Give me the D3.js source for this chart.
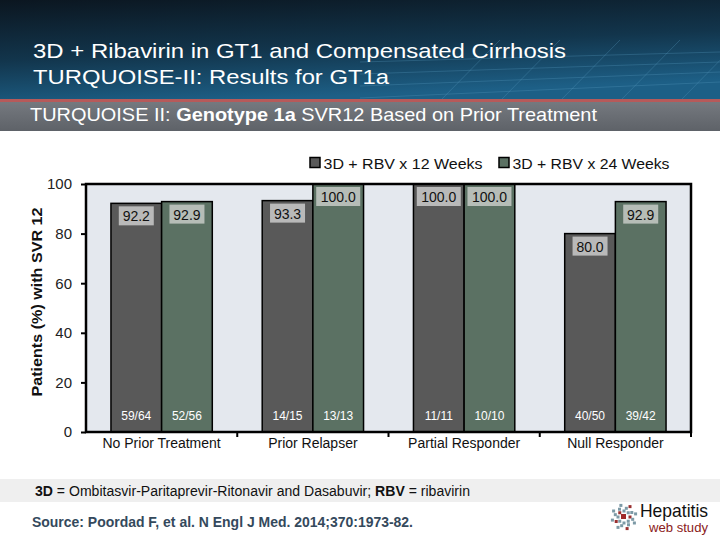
<!DOCTYPE html>
<html><head><meta charset="utf-8">
<script src="https://cdn.jsdelivr.net/npm/d3@7"></script>
<style>body{margin:0;background:#fff}svg{display:block}</style>
</head><body>
<script>
const categories = ["No Prior Treatment","Prior Relapser","Partial Responder","Null Responder"];
const seriesNames = ["3D + RBV x 12 Weeks","3D + RBV x 24 Weeks"];
const values12 = [92.2, 93.3, 100.0, 80.0];
const values24 = [92.9, 100.0, 100.0, 92.9];
const counts12 = ["59/64","14/15","11/11","40/50"];
const counts24 = ["52/56","13/13","10/10","39/42"];
const yTicks = [0,20,40,60,80,100];

const W=720,H=540;
const font="Liberation Sans, Arial, sans-serif";
const svg=d3.select("body").append("svg").attr("width",W).attr("height",H);
const defs=svg.append("defs");
function fit(sel,len){return sel.attr("textLength",len).attr("lengthAdjust","spacingAndGlyphs");}
const hg=defs.append("linearGradient").attr("id","hg").attr("x1",0).attr("y1",0).attr("x2",0.3).attr("y2",1);
hg.append("stop").attr("offset","0%").attr("stop-color","#0b1620");
hg.append("stop").attr("offset","55%").attr("stop-color","#12354c");
hg.append("stop").attr("offset","100%").attr("stop-color","#1d5f86");
svg.append("rect").attr("width",W).attr("height",101).attr("fill","url(#hg)");
// faint decorative grid
const deco=svg.append("g").attr("stroke","#5a9ac0").attr("stroke-opacity",0.3).attr("stroke-width",1);
[58,70,82,94].forEach((y,i)=>deco.append("line").attr("x1",360).attr("x2",720).attr("y1",y+4).attr("y2",y-6-i*2));
[470,530,590,650,710].forEach(x=>deco.append("line").attr("x1",x-30).attr("x2",x+30).attr("y1",101).attr("y2",40));
fit(svg.append("text").attr("x",33).attr("y",58).attr("fill","#fff").attr("font-family",font).attr("font-size",21).text("3D + Ribavirin in GT1 and Compensated Cirrhosis"),533);
fit(svg.append("text").attr("x",33).attr("y",84).attr("fill","#fff").attr("font-family",font).attr("font-size",21).text("TURQUOISE-II: Results for GT1a"),356);
svg.append("rect").attr("y",99).attr("width",W).attr("height",3).attr("fill","#b65a5a");
const sg=defs.append("linearGradient").attr("id","sg").attr("x1",0).attr("y1",0).attr("x2",0).attr("y2",1);
sg.append("stop").attr("offset","0%").attr("stop-color","#75797f");
sg.append("stop").attr("offset","100%").attr("stop-color","#5e6268");
svg.append("rect").attr("y",102).attr("width",W).attr("height",29).attr("fill","url(#sg)");
const st=svg.append("text").attr("x",30).attr("y",121).attr("fill","#fff").attr("font-family",font).attr("font-size",18.5);
st.append("tspan").text("TURQUOISE II: ");
st.append("tspan").attr("font-weight","bold").text("Genotype 1a");
st.append("tspan").text(" SVR12 Based on Prior Treatment");
fit(st,567);

const x0=86,x1=691,yTop=184,yBot=432;
const x=d3.scaleBand().domain(categories).range([x0,x1]).paddingInner(0.33).paddingOuter(0.165);
const xs=d3.scaleBand().domain([0,1]).range([0,x.bandwidth()]);
const y=d3.scaleLinear().domain([0,100]).range([yBot,yTop]);
svg.append("rect").attr("x",x0).attr("y",yTop).attr("width",x1-x0).attr("height",yBot-yTop).attr("fill","#e4e8ee");
const colors=["#595959","#5b7163"];
const boxColors=["#b9b9b9","#b6bdb7"];
const vals=[values12,values24], cnts=[counts12,counts24];
const g=svg.append("g");
categories.forEach((c,i)=>{
  [0,1].forEach(s=>{
    const bx=x(c)+xs(s), bw=xs.bandwidth(), v=vals[s][i];
    g.append("rect").attr("x",bx).attr("y",y(v)).attr("width",bw).attr("height",y(0)-y(v)).attr("fill",colors[s]).attr("stroke","#000").attr("stroke-width",1.5);
    const lbl=v.toFixed(1);
    const tw=lbl.length*9-1;
    const by=Math.max(y(v)+3,yTop+2);
    g.append("rect").attr("x",bx+bw/2-tw/2).attr("y",by).attr("width",tw).attr("height",19).attr("fill",boxColors[s]);
    g.append("text").attr("x",bx+bw/2).attr("y",by+15).attr("text-anchor","middle").attr("font-family",font).attr("font-size",14).attr("fill","#111").text(lbl);
    g.append("text").attr("x",bx+bw/2).attr("y",y(0)-12).attr("text-anchor","middle").attr("font-family",font).attr("font-size",12).attr("fill","#fff").text(cnts[s][i]);
  });
});
svg.append("rect").attr("x",x0).attr("y",yTop).attr("width",x1-x0).attr("height",yBot-yTop).attr("fill","none").attr("stroke","#000").attr("stroke-width",2.5);
// y axis
const ya=svg.append("g").attr("transform",`translate(${x0},0)`).call(d3.axisLeft(y).tickValues(yTicks).tickSize(5).tickPadding(9));
ya.select(".domain").remove();
ya.selectAll("line").attr("stroke","#000").attr("stroke-width",2);
ya.selectAll("text").attr("font-family",font).attr("font-size",15).attr("fill","#222");
// x axis ticks at boundaries
const bounds=categories.map(c=>x(c)-x.step()*x.paddingInner()/2).slice(1).concat([x1]);
bounds.forEach(b=>svg.append("line").attr("x1",b).attr("x2",b).attr("y1",yBot).attr("y2",yBot+5).attr("stroke","#000").attr("stroke-width",2));
categories.forEach(c=>svg.append("text").attr("x",x(c)+x.bandwidth()/2).attr("y",448).attr("text-anchor","middle").attr("font-family",font).attr("font-size",14).attr("fill","#111").text(c));
// y title
fit(svg.append("text").attr("transform","translate(42,302) rotate(-90)").attr("text-anchor","middle").attr("font-family",font).attr("font-size",15).attr("font-weight","bold").attr("fill","#111").text("Patients (%) with SVR 12"),189);
// legend
const leg=[{x:310,t:seriesNames[0],c:colors[0],w:159},{x:499,t:seriesNames[1],c:colors[1],w:157}];
leg.forEach(l=>{
  svg.append("rect").attr("x",l.x).attr("y",157.5).attr("width",10).attr("height",10).attr("fill",l.c).attr("stroke","#000").attr("stroke-width",1.5);
  fit(svg.append("text").attr("x",l.x+13.5).attr("y",169).attr("font-family",font).attr("font-size",15.5).attr("fill","#111").text(l.t),l.w);
});
// footnote
svg.append("rect").attr("y",479).attr("width",W).attr("height",23).attr("fill","#efefef");
const fn=svg.append("text").attr("x",35).attr("y",496).attr("font-family",font).attr("font-size",14).attr("fill","#111");
fn.append("tspan").attr("font-weight","bold").text("3D");
fn.append("tspan").text(" = Ombitasvir-Paritaprevir-Ritonavir and Dasabuvir; ");
fn.append("tspan").attr("font-weight","bold").text("RBV");
fn.append("tspan").text(" = ribavirin");
fit(fn,435);
fit(svg.append("text").attr("x",32).attr("y",527).attr("font-family",font).attr("font-size",14).attr("font-weight","bold").attr("fill","#34495c").text("Source: Poordad F, et al. N Engl J Med. 2014;370:1973-82."),381);
// logo
const lg=svg.append("g");
for(let k=0;k<24;k++){const a=k/24*2*Math.PI, r=6+ (k%3)*3;
  lg.append("rect").attr("x",624+Math.cos(a)*r-1.5).attr("y",517+Math.sin(a)*r-1.5).attr("width",3).attr("height",3).attr("fill",k%5==0?"#9a3030":"#7d9aa6");}
lg.append("rect").attr("x",621).attr("y",514).attr("width",5).attr("height",5).attr("fill","#a02a2a");
fit(svg.append("text").attr("x",640).attr("y",517).attr("font-family",font).attr("font-size",19).attr("fill","#111").text("Hepatitis"),68);
fit(svg.append("text").attr("x",649).attr("y",532).attr("font-family",font).attr("font-size",13).attr("fill","#8b2020").text("web study"),59);
</script>
</body></html>
